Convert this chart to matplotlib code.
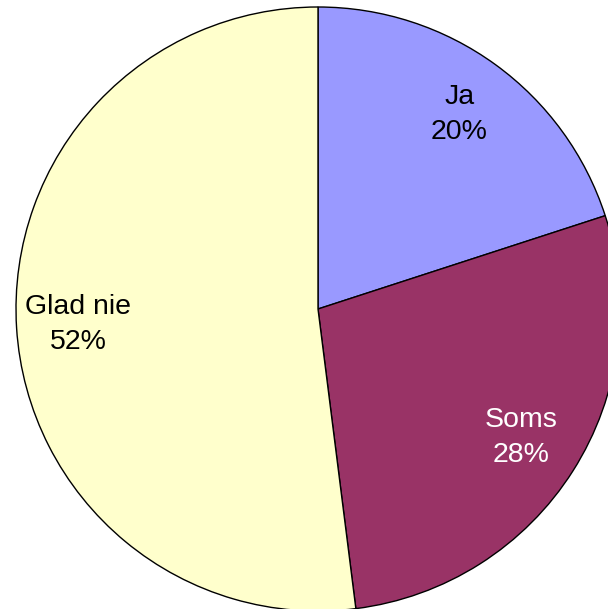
import matplotlib.pyplot as plt

plt.rcParams['font.family'] = ['Liberation Sans', 'DejaVu Sans']

# 回答分布
labels = ['Ja', 'Soms', 'Glad nie']
values = [20, 28, 52]
colors = ['#9999FF', '#993366', '#FFFFCC']
text_colors = ['black', 'white', 'black']

fig = plt.figure(figsize=(6.08, 6.09), dpi=100)
ax = fig.add_axes([0, 0, 1, 1])

wedges, texts = ax.pie(
    values,
    labels=[f'{l}\n{v}%' for l, v in zip(labels, values)],
    colors=colors,
    startangle=90,
    counterclock=False,
    center=(318, 300),
    radius=302,
    labeldistance=0.795,
    wedgeprops=dict(edgecolor='black', linewidth=1.0),
    textprops=dict(fontsize=20.5, linespacing=1.45),
    frame=True,
)
for t, c in zip(texts, text_colors):
    t.set_ha('center')
    t.set_va('center')
    t.set_color(c)

ax.set_xlim(0, 608)
ax.set_ylim(0, 609)
ax.set_aspect('equal')
ax.axis('off')

fig.savefig('out.png', dpi=100)
